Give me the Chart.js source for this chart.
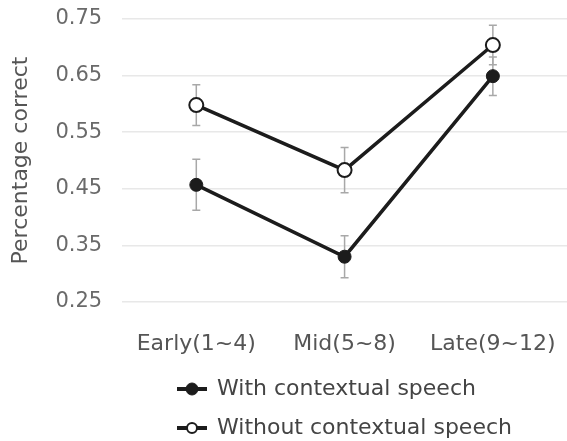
<!DOCTYPE html>
<html lang="en">
<head>
<meta charset="UTF-8">
<title>Percentage correct by phase</title>
<script src="https://cdn.jsdelivr.net/npm/chart.js"></script>
<style>
  body { margin: 0; background: #fff; }
  canvas { display: block; }
</style>
</head>
<body>
<canvas id="lineChart" width="567" height="441"></canvas>
<script>
const phases = ['Early(1~4)', 'Mid(5~8)', 'Late(9~12)'];
const withSpeech = [0.457, 0.330, 0.649];
const withSpeechErr = [0.045, 0.037, 0.034];
const withoutSpeech = [0.598, 0.483, 0.704];
const withoutSpeechErr = [0.036, 0.040, 0.035];
const yTicks = [0.25, 0.35, 0.45, 0.55, 0.65, 0.75];

const ink = '#1c1c1c';

// little line-with-dot marker for the legend
function legendMarker(filled) {
  const c = document.createElement('canvas');
  c.width = 30; c.height = 14;
  const g = c.getContext('2d');
  g.strokeStyle = ink;
  g.lineWidth = 4;
  g.beginPath(); g.moveTo(0, 7); g.lineTo(30, 7); g.stroke();
  g.beginPath(); g.arc(15, 7, filled ? 6 : 5, 0, Math.PI * 2);
  g.fillStyle = filled ? ink : '#fff';
  g.fill();
  g.lineWidth = filled ? 1 : 2;
  g.stroke();
  return c;
}

// vertical error bars behind the lines
const errorBars = {
  id: 'errorBars',
  beforeDatasetsDraw(chart) {
    const {ctx, scales: {y}} = chart;
    ctx.save();
    ctx.strokeStyle = '#a8a8a8';
    ctx.lineWidth = 1.5;
    chart.data.datasets.forEach((ds, i) => {
      chart.getDatasetMeta(i).data.forEach((pt, j) => {
        const top = y.getPixelForValue(ds.data[j] + ds.errors[j]);
        const bot = y.getPixelForValue(ds.data[j] - ds.errors[j]);
        ctx.beginPath();
        ctx.moveTo(pt.x, top); ctx.lineTo(pt.x, bot);
        ctx.moveTo(pt.x - 4, top); ctx.lineTo(pt.x + 4, top);
        ctx.moveTo(pt.x - 4, bot); ctx.lineTo(pt.x + 4, bot);
        ctx.stroke();
      });
    });
    ctx.restore();
  }
};

// push the stacked legend rows over to the right
const legendOffset = {
  id: 'legendOffset',
  afterUpdate(chart) {
    chart.legend.left += 153;
    chart.legend.right += 153;
  }
};

Chart.defaults.font.family = "'DejaVu Sans', sans-serif";

const markers = [legendMarker(true), legendMarker(false)];

new Chart(document.getElementById('lineChart'), {
  type: 'line',
  data: {
    labels: phases,
    datasets: [{
      label: 'With contextual speech',
      data: withSpeech,
      errors: withSpeechErr,
      borderColor: ink,
      borderWidth: 3.5,
      pointRadius: 6.5,
      pointBackgroundColor: ink,
      pointBorderColor: ink,
      pointBorderWidth: 1
    }, {
      label: 'Without contextual speech',
      data: withoutSpeech,
      errors: withoutSpeechErr,
      borderColor: ink,
      borderWidth: 3.5,
      pointRadius: 7,
      pointBackgroundColor: '#fff',
      pointBorderColor: ink,
      pointBorderWidth: 2
    }]
  },
  options: {
    responsive: false,
    animation: false,
    layout: { autoPadding: false, padding: { top: 19, left: 8, right: 0, bottom: 0 } },
    scales: {
      x: {
        offset: true,
        grid: { display: false, drawTicks: true, tickLength: 27 },
        border: { display: false },
        ticks: { padding: 2, color: '#555', font: { size: 22 } },
        afterFit(scale) { scale.height = 59; }
      },
      y: {
        min: 0.25,
        max: 0.75,
        afterBuildTicks(scale) { scale.ticks = yTicks.map(v => ({ value: v })); },
        grid: { color: '#e8e8e8', lineWidth: 1.5, tickLength: 18, tickColor: 'transparent' },
        border: { display: false },
        ticks: {
          padding: 2,
          color: '#6a6a6a',
          font: { size: 21 },
          callback: v => v.toFixed(2)
        },
        title: {
          display: true,
          text: 'Percentage correct',
          color: '#555',
          font: { size: 22 },
          padding: { top: 0, bottom: 19 }
        }
      }
    },
    plugins: {
      legend: {
        position: 'bottom',
        align: 'start',
        maxHeight: 80,
        labels: {
          usePointStyle: true,
          pointStyleWidth: 28,
          padding: 17,
          color: '#444',
          font: { size: 22 },
          generateLabels(chart) {
            const items = Chart.defaults.plugins.legend.labels.generateLabels(chart);
            items.forEach((it, i) => { it.pointStyle = markers[i]; });
            return items;
          }
        }
      },
      tooltip: { enabled: false }
    }
  },
  plugins: [errorBars, legendOffset]
});
</script>
</body>
</html>
